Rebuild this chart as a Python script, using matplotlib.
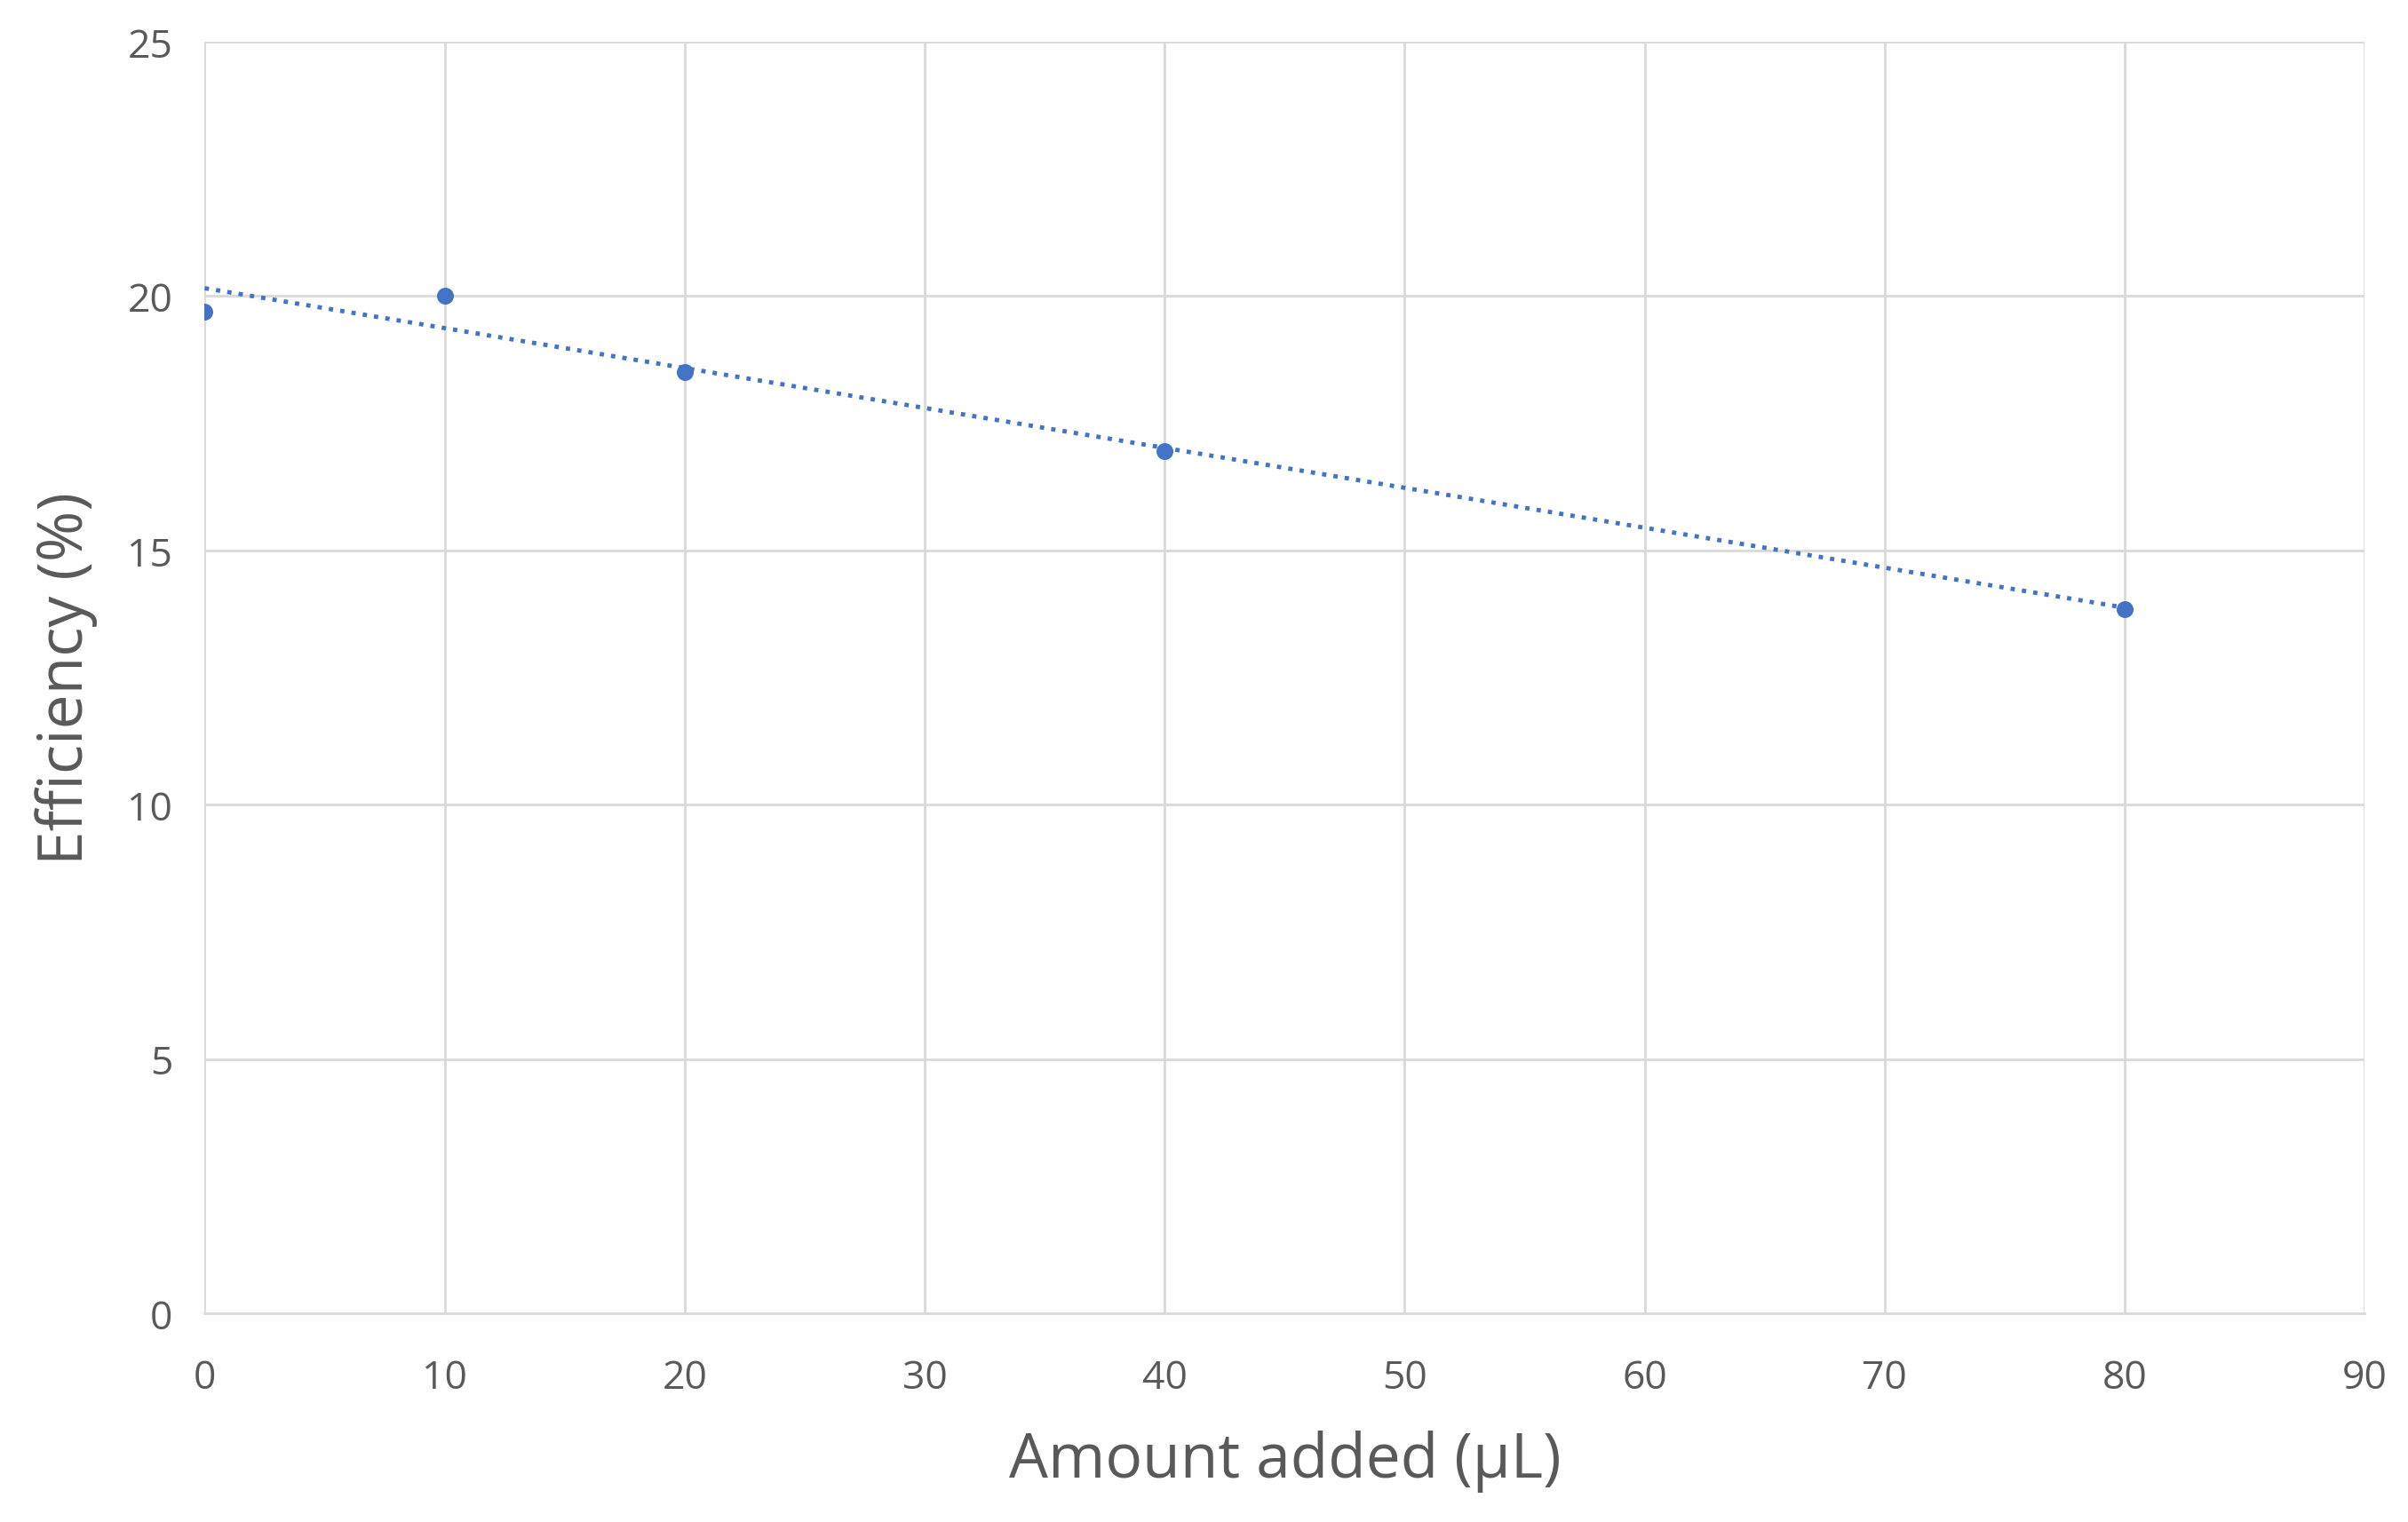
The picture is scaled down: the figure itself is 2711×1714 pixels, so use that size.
import numpy as np
import matplotlib.pyplot as plt

# data
amount = [0, 10, 20, 40, 80]
efficiency = [19.7, 20.0, 18.5, 16.95, 13.85]
x_ticks = [0, 10, 20, 30, 40, 50, 60, 70, 80, 90]
y_ticks = [0, 5, 10, 15, 20, 25]

blue = '#4472C4'
grey = '#595959'

plt.rcParams['font.family'] = ['Open Sans', 'DejaVu Sans']

fig = plt.figure(figsize=(27.11, 17.15), dpi=100)
ax = fig.add_axes([0.085, 0.137, 0.897, 0.835])

# linear trendline, as in a spreadsheet chart
slope, intercept = np.polyfit(amount, efficiency, 1)
xs = np.array([amount[0], amount[-1]])
ax.plot(xs, slope * xs + intercept, linestyle=':', color=blue, linewidth=3.5)
ax.scatter(amount, efficiency, color=blue, s=160, zorder=3)

ax.set_xlim(0, 90)
ax.set_ylim(0, 25)
ax.set_xticks(x_ticks)
ax.set_yticks(y_ticks)
ax.grid(True, color='#D9D9D9', linewidth=2)
ax.set_axisbelow(True)
for side in ['top', 'right', 'left']:
    ax.spines[side].set_visible(False)
ax.spines['bottom'].set_color('#D9D9D9')
ax.spines['bottom'].set_linewidth(2)
ax.tick_params(length=0, labelsize=32, labelcolor=grey)
ax.tick_params(axis='x', pad=36)
ax.tick_params(axis='y', pad=26)

ax.set_xlabel('Amount added (µL)', fontsize=50, color=grey, labelpad=26)
ax.set_ylabel('Efficiency (%)', fontsize=50, color=grey, labelpad=24)

fig.savefig('out.png', dpi=100)
